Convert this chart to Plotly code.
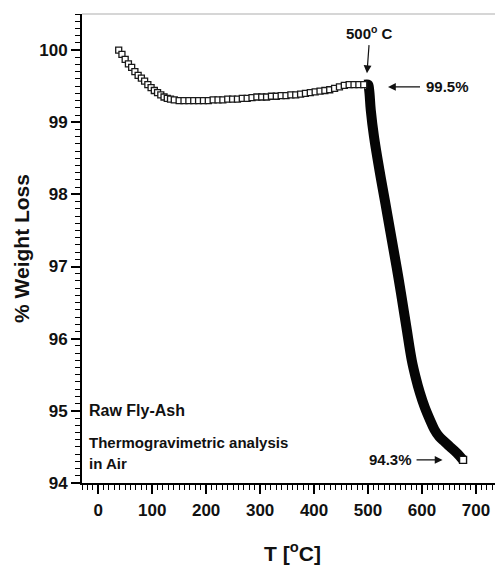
import plotly.graph_objects as go

# Open-square data: initial drying region and plateau (T in °C, % weight)
T_start = [38, 44, 50, 56, 62, 68, 74, 80, 86, 92, 98, 104, 110, 116, 122, 128, 134, 141]
W_start = [100.00, 99.94, 99.87, 99.81, 99.76, 99.70, 99.65, 99.61, 99.57, 99.52,
           99.48, 99.44, 99.41, 99.38, 99.35, 99.33, 99.32, 99.31]

T_plateau = [150, 159, 168, 177, 186, 195, 204, 213, 222, 231, 240, 249, 258, 267, 276,
             285, 294, 303, 312, 321, 330, 339, 348, 357, 366, 375, 384, 393, 402, 411,
             420, 429, 438, 447, 456, 465, 474, 483, 492]
W_plateau = [99.30, 99.30, 99.30, 99.30, 99.30, 99.30, 99.30, 99.31, 99.31, 99.31, 99.32,
             99.32, 99.32, 99.33, 99.33, 99.34, 99.35, 99.35, 99.35, 99.36, 99.36, 99.37,
             99.37, 99.38, 99.38, 99.39, 99.40, 99.41, 99.42, 99.43, 99.44, 99.45, 99.47,
             99.49, 99.51, 99.52, 99.52, 99.52, 99.52]

# Dense decomposition region (overlapping squares form a solid band)
T_drop = [494, 500, 502, 505, 511, 521, 532, 543, 553, 561, 571, 581, 588, 596,
          605, 615, 623, 632, 642, 652, 664, 676]
W_drop = [99.52, 99.52, 99.45, 99.17, 98.80, 98.34, 97.88, 97.41, 96.99, 96.63, 96.16,
          95.70, 95.47, 95.25, 95.05, 94.87, 94.74, 94.64, 94.57, 94.50, 94.42, 94.32]

T_end = [676]
W_end = [94.32]

x_ticks = [0, 100, 200, 300, 400, 500, 600, 700]
y_ticks = [94, 95, 96, 97, 98, 99, 100]

FONT = "Liberation Sans, Arial, sans-serif"
INK = "#111111"

fig = go.Figure()

fig.add_trace(go.Scatter(
    x=T_drop, y=W_drop, mode="lines",
    line=dict(color="#050505", width=10, shape="spline", smoothing=1.0),
    hoverinfo="skip", showlegend=False))

fig.add_trace(go.Scatter(
    x=T_start + T_plateau, y=W_start + W_plateau, mode="markers",
    marker=dict(symbol="square", size=6, color="white",
                line=dict(color="#1a1a1a", width=1.3)),
    showlegend=False))

fig.add_trace(go.Scatter(
    x=T_end, y=W_end, mode="markers",
    marker=dict(symbol="square", size=7, color="white",
                line=dict(color="#111111", width=1.4)),
    showlegend=False))

axis_common = dict(
    showgrid=False, zeroline=False, showline=True, linecolor="black", linewidth=2,
    ticks="outside", ticklen=9, tickwidth=1.5, tickcolor="black",
    tickfont=dict(family=FONT, size=17, color=INK, weight="bold"),
)

x_minor = [v for v in range(-30, 751, 10) if v not in x_ticks]
y_minor = [round(94 + i * 0.1, 1) for i in range(66)]
y_minor = [v for v in y_minor if v not in y_ticks]

fig.update_xaxes(
    range=[-30, 750], tickvals=x_ticks,
    minor=dict(tickvals=x_minor, ticks="outside", ticklen=5, tickwidth=1.2, tickcolor="black"),
    ticklabelstandoff=2,
    title=dict(text="T [<sup>o</sup>C]", font=dict(family=FONT, size=21, color=INK, weight="bold"),
               standoff=29),
    **axis_common)

fig.update_yaxes(
    range=[94, 100.5], tickvals=y_ticks,
    minor=dict(tickvals=y_minor, ticks="outside", ticklen=5, tickwidth=1.2, tickcolor="black"),
    title=dict(text="% Weight Loss", font=dict(family=FONT, size=21, color=INK, weight="bold"),
               standoff=4),
    **axis_common)

ann_font = dict(family=FONT, size=15, color=INK, weight="bold")
arrow_style = dict(showarrow=True, arrowhead=2, arrowsize=1.3, arrowwidth=1.2,
                   arrowcolor=INK, font=ann_font, axref="pixel", ayref="pixel")

annotations = [
    dict(x=498, y=99.68, ax=3, ay=-41, text="500<sup>o</sup> C", startstandoff=2, **arrow_style),
    dict(x=537, y=99.49, ax=59, ay=0, text="99.5%", startstandoff=4, **arrow_style),
    dict(x=638, y=94.32, ax=-52, ay=0, text="94.3%", startstandoff=3, **arrow_style),
    dict(x=-20, y=95.01, text="Raw Fly-Ash", showarrow=False,
         font=dict(family=FONT, size=16, color=INK, weight="bold"),
         xanchor="left", yanchor="middle"),
    dict(x=-20, y=94.56, text="Thermogravimetric analysis", showarrow=False, font=ann_font,
         xanchor="left", yanchor="middle"),
    dict(x=-20, y=94.27, text="in Air", showarrow=False, font=ann_font,
         xanchor="left", yanchor="middle"),
]
for a in annotations:
    a.setdefault("xref", "x")
    a.setdefault("yref", "y")
fig.update_layout(annotations=annotations)

fig.add_shape(type="line", xref="paper", yref="paper", x0=0, x1=1, y0=1, y1=1,
              line=dict(color="#c8c8c8", width=1.5))

# the page body keeps its default 8px margin; the figure is sized so that
# the plot area lands where the reference has it
fig.update_layout(
    width=495, height=557,
    margin=dict(l=74, r=0, t=6, b=82),
    plot_bgcolor="white", paper_bgcolor="white",
    showlegend=False,
)

fig.write_html("out.html")
